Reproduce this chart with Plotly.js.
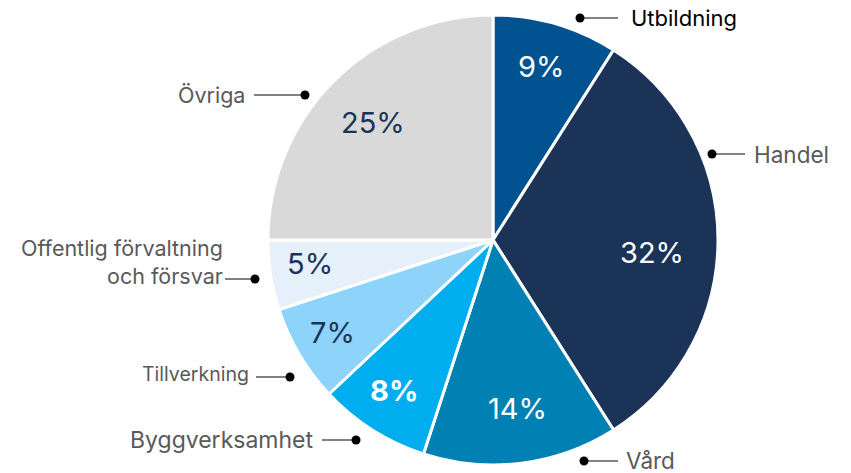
<!DOCTYPE html>
<html>
<head>
<meta charset="utf-8">
<script src="https://cdn.plot.ly/plotly-3.0.1.min.js"></script>
<style>html,body{margin:0;padding:0;background:#fff;}#chart{width:851px;height:473px;}</style>
</head>
<body>
<div id="chart"></div>
<script>
// Data
const categories = ["Utbildning", "Handel", "Vård", "Byggverksamhet", "Tillverkning", "Offentlig förvaltning<br>och försvar", "Övriga"];
const shares = [9, 32, 14, 8, 7, 5, 25];

// Styling
const colors = ["#005290", "#1b3357", "#0080b3", "#00adee", "#8ed3fa", "#e6f0fa", "#d9d9d9"];
const pctColors = ["#ffffff", "#ffffff", "#ffffff", "#ffffff", "#1b3357", "#1b3357", "#1b3357"];
const labelColors = ["#000000", "#595959", "#595959", "#595959", "#595959", "#595959", "#595959"];
const labelSizes = [22, 22.5, 22.5, 23, 19.5, 21.5, 21.5];

const W = 851, H = 473;
const FONT = "Inter, 'Open Sans', sans-serif";
// label layout in pixels
const labelLayout = [
  {dot:[580,18], line:[580,618], tx:629, ty:18, anchor:"left"},
  {dot:[712,154], line:[712,745], tx:752, ty:154, anchor:"left"},
  {dot:[584,461], line:[584,618], tx:624, ty:460, anchor:"left"},
  {dot:[356,440], line:[322,356], tx:315, ty:440, anchor:"right"},
  {dot:[290,377], line:[256,290], tx:251, ty:374, anchor:"right"},
  {dot:[255,279], line:[225,255], tx:225, ty:262, anchor:"right"},
  {dot:[305,95], line:[254,305], tx:247, ty:95, anchor:"right"}
];
// percentage text centres in pixels
const pctPos = [[541,66],[652,253],[517,408],[394,390],[332,332],[310,263],[373,122]];
const px = x => x / W, py = y => 1 - y / H;

const shapes = [], annotations = [];
labelLayout.forEach((L, i) => {
  shapes.push({type:"line", xref:"paper", yref:"paper", x0:px(L.line[0]), x1:px(L.line[1]), y0:py(L.dot[1]), y1:py(L.dot[1]), line:{color:"#595959", width:1.5}});
  shapes.push({type:"circle", xref:"paper", yref:"paper", x0:px(L.dot[0]-4.5), x1:px(L.dot[0]+4.5), y0:py(L.dot[1]-4.5), y1:py(L.dot[1]+4.5), fillcolor:"#000", line:{width:0}});
  annotations.push({xref:"paper", yref:"paper", x:px(L.tx), y:py(L.ty), text:categories[i], showarrow:false,
    xanchor:L.anchor, yanchor:"middle", align:"right",
    font:{family:FONT, size:labelSizes[i], color:labelColors[i]}});
});
shares.forEach((v, i) => {
  annotations.push({xref:"paper", yref:"paper", x:px(pctPos[i][0]), y:py(pctPos[i][1]),
    text: i === 3 ? "<b>" + v + "%</b>" : v + "%", showarrow:false, xanchor:"center", yanchor:"middle",
    font:{family:FONT, size:29, color:pctColors[i]}});
});

const trace = {
  type: "pie",
  labels: categories,
  values: shares,
  sort: false,
  direction: "clockwise",
  rotation: 0,
  marker: {colors: colors, line: {color: "#ffffff", width: 3}},
  textinfo: "none",
  hoverinfo: "none",
  showlegend: false,
  domain: {x: [(493-225)/W, (493+225)/W], y: [1-465/H, 1-15/H]}
};

Plotly.newPlot("chart", [trace], {
  width: W, height: H,
  margin: {l:0, r:0, t:0, b:0},
  paper_bgcolor: "#ffffff",
  showlegend: false,
  shapes: shapes,
  annotations: annotations
}, {staticPlot: true});
</script>
</body>
</html>
